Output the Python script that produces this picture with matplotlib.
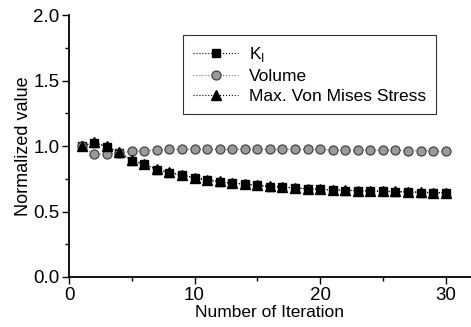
import numpy as np
import matplotlib
matplotlib.use('Agg')
import matplotlib.pyplot as plt
from matplotlib.ticker import MultipleLocator

plt.rcParams['font.family'] = ['Liberation Sans', 'DejaVu Sans']
plt.rcParams['mathtext.fontset'] = 'custom'
plt.rcParams['mathtext.rm'] = 'Liberation Sans'

# Data
iterations = list(range(1, 31))
k_values = [1.00, 1.025, 0.995, 0.95, 0.89, 0.86, 0.82, 0.795, 0.78, 0.755,
            0.74, 0.725, 0.715, 0.71, 0.70, 0.69, 0.685, 0.68, 0.675, 0.67,
            0.665, 0.66, 0.66, 0.655, 0.655, 0.65, 0.65, 0.645, 0.645, 0.64]
volume_values = [1.00, 0.94, 0.94, 0.95, 0.96, 0.965, 0.97, 0.975, 0.975, 0.975,
                 0.975, 0.975, 0.975, 0.975, 0.975, 0.975, 0.975, 0.975, 0.975, 0.975,
                 0.97, 0.97, 0.97, 0.97, 0.97, 0.97, 0.965, 0.965, 0.965, 0.96]
stress_values = [1.00, 1.03, 1.00, 0.955, 0.895, 0.86, 0.825, 0.80, 0.78, 0.76,
                 0.745, 0.73, 0.72, 0.71, 0.70, 0.695, 0.69, 0.68, 0.675, 0.67,
                 0.665, 0.665, 0.66, 0.66, 0.655, 0.655, 0.65, 0.65, 0.645, 0.645]

fig = plt.figure(figsize=(4.71, 3.27), dpi=100)
ax = fig.add_axes([0.1465, 0.153, 0.853, 0.8])

ax.plot(iterations, k_values, color='black', linestyle=':', linewidth=0.8,
        marker='s', markersize=6, markerfacecolor='black', markeredgecolor='black',
        label=r'K$_\mathrm{I}$')
ax.plot(iterations, volume_values, color='#777777', linestyle=':', linewidth=0.8,
        marker='o', markersize=6.5, markerfacecolor='#9a9a9a', markeredgecolor='#444444',
        markeredgewidth=0.9, label='Volume')
ax.plot(iterations, stress_values, color='black', linestyle=':', linewidth=0.8,
        marker='^', markersize=7, markerfacecolor='black', markeredgecolor='black',
        label='Max. Von Mises Stress')

ax.set_xlim(0, 32)
ax.set_ylim(0, 2.0)
ax.xaxis.set_major_locator(MultipleLocator(10))
ax.xaxis.set_minor_locator(MultipleLocator(5))
ax.yaxis.set_major_locator(MultipleLocator(0.5))
ax.yaxis.set_minor_locator(MultipleLocator(0.25))
ax.yaxis.set_major_formatter(matplotlib.ticker.FormatStrFormatter('%.1f'))
ax.tick_params(which='major', direction='out', length=5, width=1, labelsize=13.5, pad=2)
ax.tick_params(which='minor', direction='out', length=3, width=1)

ax.spines['top'].set_visible(False)
ax.spines['right'].set_visible(False)
ax.spines['left'].set_linewidth(1.3)
ax.spines['bottom'].set_linewidth(1.3)

ax.set_xlabel('Number of Iteration', fontsize=12.5, labelpad=1)
ax.set_ylabel('Normalized value', fontsize=13, labelpad=1)

leg = ax.legend(loc='upper left', bbox_to_anchor=(0.262, 0.96), fontsize=12.5,
                frameon=True, fancybox=False, edgecolor='black', handlelength=2.6,
                borderpad=0.6, labelspacing=0.28, handletextpad=0.6)
leg.get_frame().set_linewidth(0.8)

plt.savefig('out.png', dpi=100)
